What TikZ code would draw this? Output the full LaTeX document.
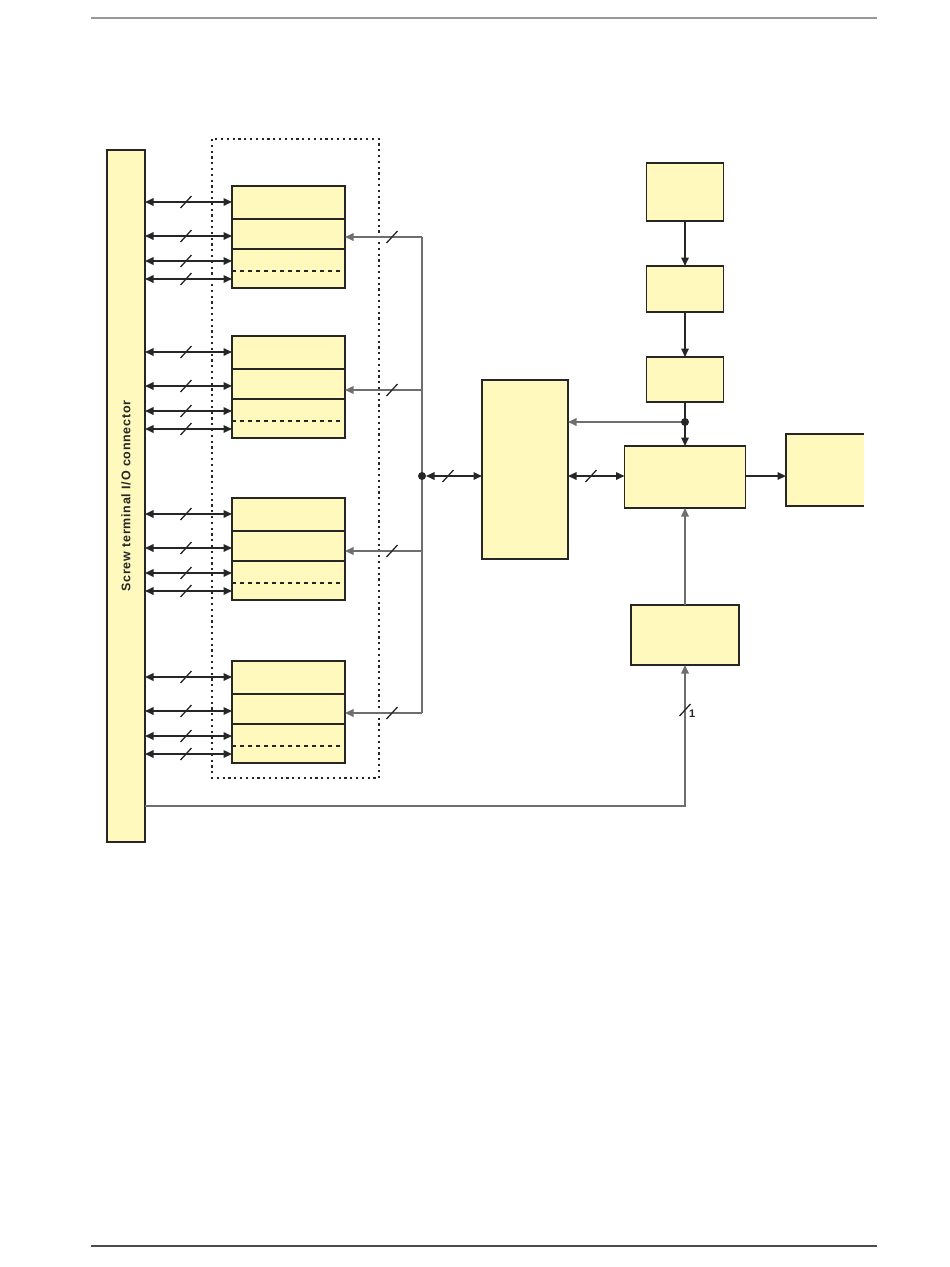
\documentclass[tikz,border=0pt]{standalone}
\usepackage{fontspec}
\setsansfont{Liberation Sans}
\newfontfamily\bartextfont[LetterSpace=6]{Liberation Sans}
\usetikzlibrary{arrows.meta,calc}
\definecolor{blkfill}{HTML}{FFF9BD}
\definecolor{dk}{HTML}{262626}
\definecolor{gr}{HTML}{6E6E6E}
\tikzset{
  blk/.style={draw=dk,fill=blkfill,line width=1.3pt,inner sep=0pt,outer sep=0pt},
  tip/.style={-{Triangle[length=8.5pt,width=7.5pt]}},
  dtip/.style={{Triangle[length=8.5pt,width=7.5pt]}-{Triangle[length=8.5pt,width=7.5pt]}},
  wire/.style={line width=1.6pt,color=dk},
  gwire/.style={line width=1.6pt,color=gr},
  divl/.style={draw=dk,line width=1.2pt},
  dashl/.style={draw=dk,line width=1.1pt,dash pattern=on 4pt off 4pt},
  dotbox/.style={draw=dk,line width=1.3pt,dash pattern=on 2.2pt off 3.6pt},
  dot/.style={circle,fill=dk,inner sep=0pt,minimum size=8pt},
}
\newcommand{\slashmark}[1]{\draw[line width=1.3pt,color=dk] ($(#1)+(-5.5,6)$) -- ($(#1)+(5.5,-6)$);}
\begin{document}
\begin{tikzpicture}[x=1pt,y=-1pt]
\useasboundingbox (0,0) rectangle (950,1267);
% page rules
\draw[color=black!40,line width=1.2pt] (91,18) -- (877,18);
\draw[color=black!70,line width=1.2pt] (91,1246) -- (877,1246);
% connector bar
\node[blk,minimum width=38pt,minimum height=692pt] (bar) at (126,496) {};
\node[rotate=90,font=\bartextfont\bfseries\fontsize{12.5}{14}\selectfont,color=dk] (bartxt) at (bar.center) {Screw terminal I/O connector};
% dotted box
\draw[dotbox] (212,139) rectangle (379,778);
% channel blocks
\foreach \i/\t/\r in {1/186/237, 2/336/390, 3/498/551, 4/661/713}{
  \node[blk,minimum width=113pt,minimum height=102pt,anchor=north west] (b\i) at (232,\t) {};
  \draw[divl] ($(b\i.north west)+(0,33)$) -- ($(b\i.north east)+(0,33)$);
  \draw[divl] ($(b\i.north west)+(0,63)$) -- ($(b\i.north east)+(0,63)$);
  \draw[dashl] ($(b\i.north west)+(0,85)$) -- ($(b\i.north east)+(0,85)$);
  \foreach \o in {16,50,75,93}{
    \draw[wire,dtip] (bar.east |- 0,\t+\o) -- (b\i.west |- 0,\t+\o);
    \coordinate (s) at (186,\t+\o);
    \slashmark{s}
  }
  \coordinate (bus\i) at (422,\r);
  \draw[gwire,tip] (bus\i) -- (b\i.east |- bus\i);
  \coordinate (s) at (392,\r);
  \slashmark{s}
}
\draw[gwire] (bus1) -- (bus4);
% center block
\node[blk,minimum width=86pt,minimum height=179pt] (mid) at (525,469.5) {};
\coordinate (jb) at (422,476);
\draw[wire,dtip] ($(jb)+(4,0)$) -- (mid.west |- jb);
\coordinate (s) at (448,476);
\slashmark{s}
% right column
\node[blk,minimum width=77pt,minimum height=58pt] (ba) at (685,192) {};
\node[blk,minimum width=77pt,minimum height=46pt] (bb) at (685,289) {};
\node[blk,minimum width=77pt,minimum height=45pt] (bc) at (685,379.5) {};
\node[blk,minimum width=121pt,minimum height=62pt] (bd) at (685,477) {};
\node[blk,minimum width=108pt,minimum height=60pt] (bf) at (685,635) {};
\node[fill=blkfill,inner sep=0pt,outer sep=0pt,minimum width=78pt,minimum height=72pt] (be) at (825,470) {};
\draw[draw=dk,line width=1.3pt] (be.north east) -- (be.north west) -- (be.south west) -- (be.south east);
\draw[wire,tip] (ba) -- (bb);
\draw[wire,tip] (bb) -- (bc);
\coordinate (jc) at (685,422);
\draw[wire,tip] (bc) -- (bd);
\draw[gwire,tip] (jc) -- (mid.east |- jc);
\draw[wire,dtip] (mid.east |- 0,476) -- (bd.west |- 0,476);
\coordinate (s) at (591,476);
\slashmark{s}
\draw[line width=2.2pt,color=dk,tip] (bd.east |- 0,476) -- (be.west |- 0,476);
\draw[gwire,tip] (bf) -- (bd);
% junction dots
\node[dot] (jbdot) at (jb) {};
\node[dot] (jcdot) at (jc) {};
% bottom feed
\coordinate (corner) at (685,806);
\draw[gwire,tip] (bar.east |- corner) -- (corner) -- (bf.south);
\coordinate (s) at (685,710);
\slashmark{s}
\node[font=\sffamily\bfseries\fontsize{11}{12}\selectfont,color=dk,anchor=west,inner sep=0pt] (one) at (689,714) {1};
\end{tikzpicture}
\end{document}
